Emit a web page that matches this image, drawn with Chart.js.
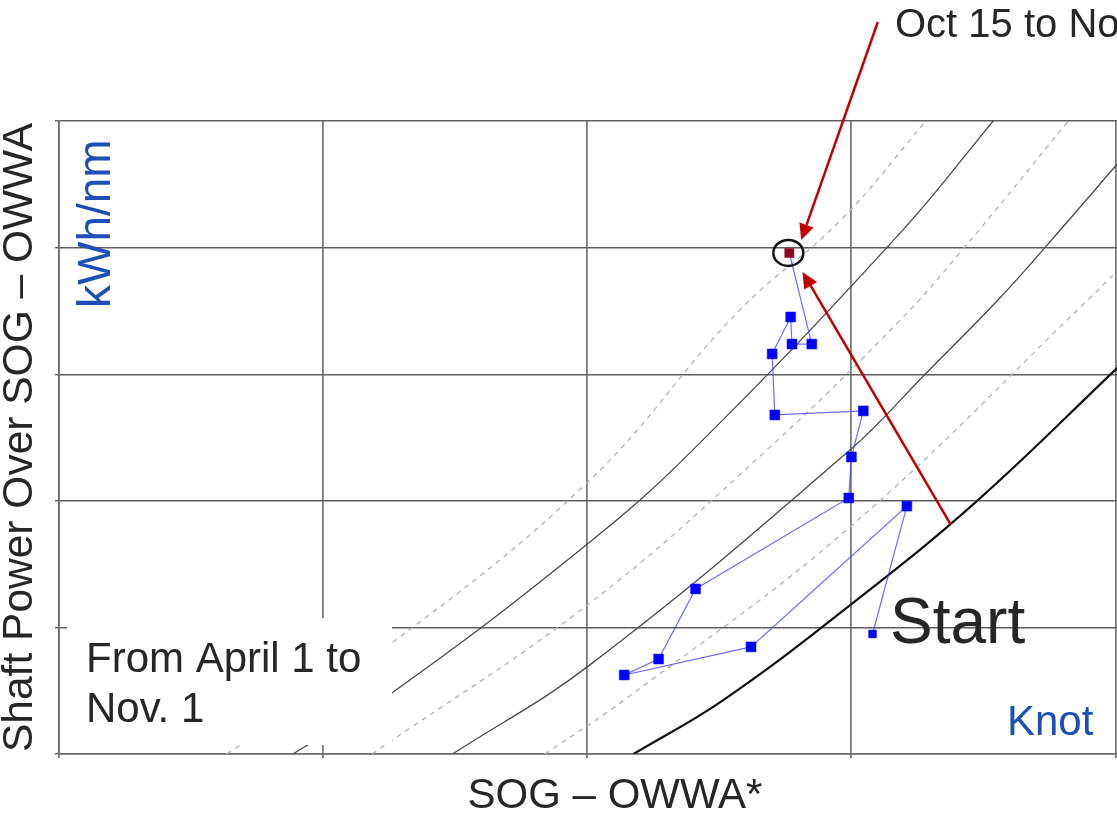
<!DOCTYPE html>
<html>
<head>
<meta charset="utf-8">
<script src="https://cdn.jsdelivr.net/npm/chart.js@4.4.1/dist/chart.umd.min.js"></script>
<style>
    html, body { margin: 0; padding: 0; background: #fff; overflow: hidden; }
    #marco { width: 1117px; height: 822px; overflow: hidden; }
    canvas { display: block; }
</style>
</head>
<body>
<div id="marco"><canvas id="grafico" width="1180" height="822"></canvas></div>
<script>
// Puntos (SOG en nudos, kWh/nm), en orden desde "Start"
const sogPuntos = [14.16, 14.42, 13.24, 12.28, 12.54, 12.82, 13.98, 14.00, 14.09, 13.42, 13.40, 13.54, 13.55, 13.70, 13.53];
const kwhPuntos = [47.4, 97.9, 42.3, 31.2, 37.5, 65.2, 101.1, 117.3, 135.5, 133.9, 158.0, 172.6, 161.9, 161.9, 197.9];

// Curvas de referencia: [SOG, kWh/nm]
const curvaPunteada1 = [[9.27, 0], [10.52, 43.8], [12.02, 108.2], [13.14, 174.6], [13.92, 210.9], [14.57, 250.4]];
const curvaSolida1 = [[9.77, 0], [10.52, 24.1], [12.02, 83.7], [12.80, 120.1], [14.37, 205.8], [15.08, 250.4]];
const curvaPunteada2 = [[10.37, 0], [12.02, 59.6], [13.36, 120.1], [14.37, 171.4], [14.84, 199.1], [15.65, 250.4]];
const curvaSolida2 = [[10.98, 0], [12.02, 35.2], [13.99, 120.1], [14.56, 150.1], [15.11, 179.3], [15.45, 199.1], [16.02, 233.4]];
const curvaPunteada3 = [[11.68, 0], [12.30, 22.1], [13.99, 89.7], [15.79, 179.3], [16.02, 191.2]];
const curvaGruesa = [[12.35, 0], [13.03, 21.3], [13.99, 58.8], [14.95, 99.9], [16.02, 152.8]];

// Ejes
const xMin = 8, xMax = 16.42, xPaso = 2;
const yMin = 0, yMax = 250, yPaso = 50;

const fuente = "'Liberation Sans', Arial, sans-serif";
const gris = '#262626';
const azulTexto = '#1d4fb5';

function aPuntos(curva) {
    return curva.map(p => ({ x: p[0], y: p[1] }));
}

function curva(datos, color, ancho, guiones) {
    return {
        data: aPuntos(datos),
        showLine: true,
        borderColor: color,
        borderWidth: ancho,
        borderDash: guiones,
        pointRadius: 0,
        tension: 0.4,
        fill: false
    };
}

const ultimo = sogPuntos.length - 1;

function flecha(ctx, x1, y1, x2, y2) {
    const ang = Math.atan2(y2 - y1, x2 - x1);
    const largo = 16, medio = 7.5;
    const bx = x2 - largo * Math.cos(ang);
    const by = y2 - largo * Math.sin(ang);
    ctx.beginPath();
    ctx.moveTo(x1, y1);
    ctx.lineTo(bx, by);
    ctx.stroke();
    ctx.beginPath();
    ctx.moveTo(x2, y2);
    ctx.lineTo(bx + medio * Math.sin(ang), by - medio * Math.cos(ang));
    ctx.lineTo(bx - medio * Math.sin(ang), by + medio * Math.cos(ang));
    ctx.closePath();
    ctx.fill();
}

const anotaciones = {
    id: 'anotaciones',
    afterDraw(chart) {
        const { ctx, scales: { x, y } } = chart;
        ctx.save();

        // Caja del texto de período
        ctx.fillStyle = '#fff';
        ctx.fillRect(67, 618, 325, 127);
        ctx.fillStyle = gris;
        ctx.font = `42px ${fuente}`;
        ctx.textBaseline = 'alphabetic';
        ctx.fillText('From April 1 to', 86, 672);
        ctx.fillText('Nov. 1', 86, 722);

        // Textos
        ctx.font = `64px ${fuente}`;
        ctx.fillText('Start', 890, 643);
        ctx.font = `40px ${fuente}`;
        ctx.fillText('Oct 15 to Nov. 1', 895, 37);
        ctx.fillStyle = azulTexto;
        ctx.font = `42px ${fuente}`;
        ctx.fillText('Knot', 1007, 735);
        ctx.save();
        ctx.translate(110, 308);
        ctx.rotate(-Math.PI / 2);
        ctx.font = `46px ${fuente}`;
        ctx.fillText('kWh/nm', 0, 0);
        ctx.restore();

        // Círculo en el último punto
        const cx = x.getPixelForValue(sogPuntos[ultimo]);
        const cy = y.getPixelForValue(kwhPuntos[ultimo]);
        ctx.strokeStyle = '#111';
        ctx.lineWidth = 2.5;
        ctx.beginPath();
        ctx.ellipse(cx - 1, cy, 15, 13, 0, 0, Math.PI * 2);
        ctx.stroke();

        // Flechas rojas
        ctx.strokeStyle = '#c00000';
        ctx.fillStyle = '#c00000';
        ctx.lineWidth = 2.5;
        flecha(ctx, x.getPixelForValue(14.20), y.getPixelForValue(289.1), x.getPixelForValue(13.62), y.getPixelForValue(203.0));
        flecha(ctx, x.getPixelForValue(14.75), y.getPixelForValue(90.8), x.getPixelForValue(13.63), y.getPixelForValue(190.4));

        ctx.restore();
    }
};

const ctx = document.getElementById('grafico').getContext('2d');

window.miGrafico = new Chart(ctx, {
    type: 'scatter',
    data: {
        datasets: [
            {
                data: sogPuntos.map((v, i) => ({ x: v, y: kwhPuntos[i] })),
                showLine: true,
                tension: 0,
                borderColor: 'rgba(60, 60, 255, 0.75)',
                borderWidth: 1.2,
                pointStyle: 'rect',
                pointRadius: sogPuntos.map((v, i) => i === 0 ? 5.5 : (i === ultimo ? 6.5 : 7)),
                pointBackgroundColor: sogPuntos.map((v, i) => i === ultimo ? '#8c0a28' : '#0000ff'),
                pointBorderColor: sogPuntos.map((v, i) => i === ultimo ? '#8c0a28' : '#0000ff'),
                pointBorderWidth: 0.5
            },
            curva(curvaGruesa, '#111111', 2.2, []),
            curva(curvaSolida1, '#4a4a4a', 1.3, []),
            curva(curvaSolida2, '#4a4a4a', 1.3, []),
            curva(curvaPunteada1, '#a9b6c6', 1.3, [5, 5]),
            curva(curvaPunteada2, '#a9b6c6', 1.3, [5, 5]),
            curva(curvaPunteada3, '#a9b6c6', 1.3, [5, 5])
        ]
    },
    options: {
        responsive: false,
        animation: false,
        layout: { padding: { top: 121, right: 9, left: 0, bottom: 0 } },
        plugins: {
            legend: { display: false },
            tooltip: { enabled: false }
        },
        scales: {
            x: {
                type: 'linear',
                min: xMin,
                max: xMax,
                ticks: { display: false, stepSize: xPaso },
                grid: { color: '#7a7a7a', lineWidth: 1.8, tickLength: 4 },
                border: { color: '#6a6a6a', width: 1.5 },
                title: {
                    display: true,
                    text: 'SOG – OWWA*',
                    color: gris,
                    font: { family: fuente, size: 42, lineHeight: 1.2 },
                    padding: { top: 13.6, bottom: 0 }
                }
            },
            y: {
                min: yMin,
                max: yMax,
                ticks: { display: false, stepSize: yPaso },
                grid: { color: '#5e5e5e', lineWidth: 1.4, tickLength: 4 },
                border: { color: '#6a6a6a', width: 1.5 },
                title: {
                    display: true,
                    text: 'Shaft Power Over SOG – OWWA',
                    color: gris,
                    font: { family: fuente, size: 42.5, lineHeight: 0.8 },
                    padding: { top: 3, bottom: 18 }
                }
            }
        }
    },
    plugins: [anotaciones]
});
</script>
</body>
</html>
